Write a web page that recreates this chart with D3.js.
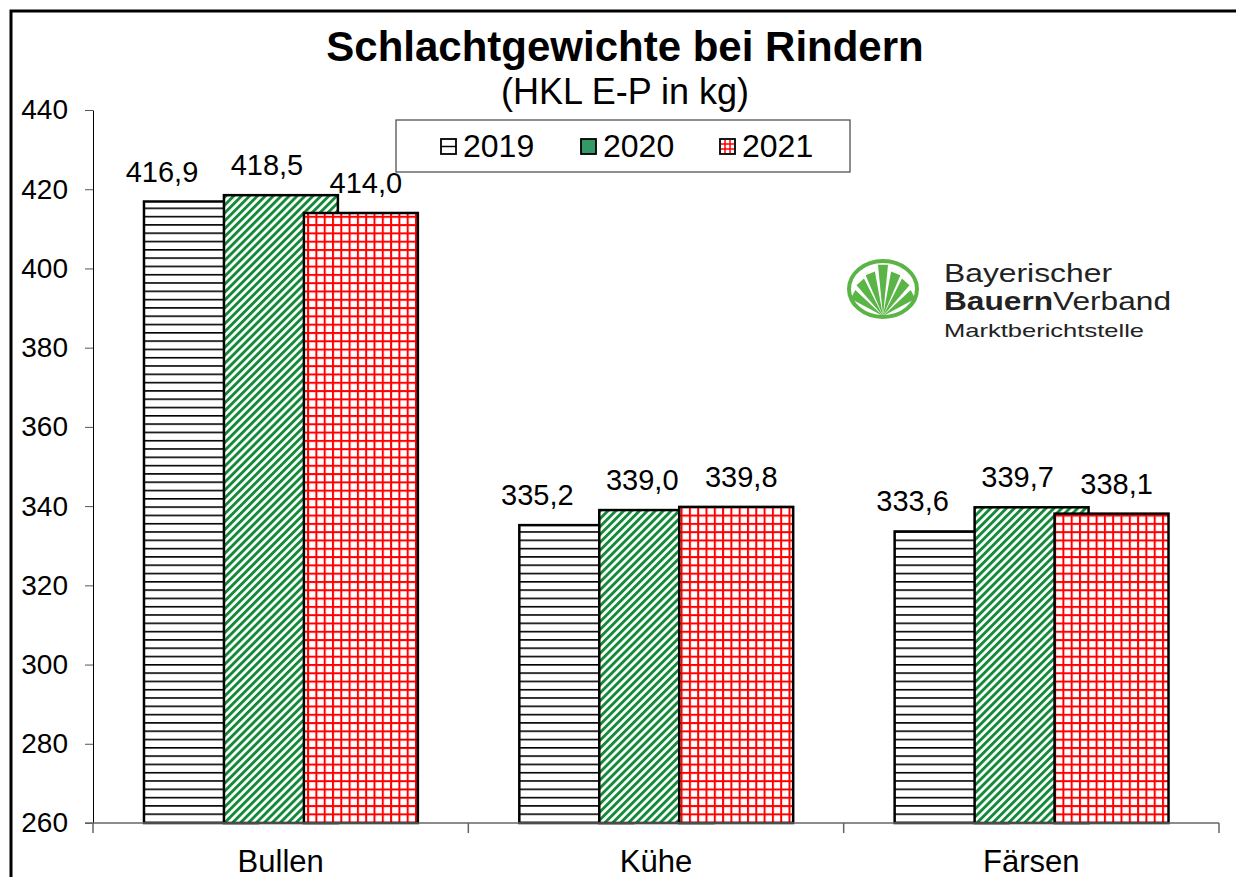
<!DOCTYPE html>
<html>
<head>
<meta charset="utf-8">
<script src="https://cdn.jsdelivr.net/npm/d3@7"></script>
<style>
  body { margin: 0; background: #fff; }
  svg { display: block; font-family: "Liberation Sans", Arial, sans-serif; }
</style>
</head>
<body>
<svg></svg>
<script>
const categories = ["Bullen", "Kühe", "Färsen"]
const years = ["2019", "2020", "2021"]
const values2019 = [416.9, 335.2, 333.6]
const values2020 = [418.5, 339.0, 339.7]
const values2021 = [414.0, 339.8, 338.1]
const yTicks = [260, 280, 300, 320, 340, 360, 380, 400, 420, 440]

const series = [values2019, values2020, values2021]
const fmt = v => d3.format(".1f")(v).replace(".", ",")

const svg = d3.select("svg")
  .attr("width", 1236)
  .attr("height", 877)

// patterns
const defs = svg.append("defs")

const pHoriz = defs.append("pattern")
  .attr("id", "p2019")
  .attr("patternUnits", "userSpaceOnUse")
  .attr("width", 8).attr("height", 8.3)
pHoriz.append("rect").attr("width", 8).attr("height", 8.3).attr("fill", "#fff")
pHoriz.append("rect").attr("y", 0).attr("width", 8).attr("height", 1.6).attr("fill", "#000")

const pDiag = defs.append("pattern")
  .attr("id", "p2020")
  .attr("patternUnits", "userSpaceOnUse")
  .attr("width", 5.6).attr("height", 5.6)
  .attr("patternTransform", "rotate(45)")
pDiag.append("rect").attr("width", 5.6).attr("height", 5.6).attr("fill", "#fff")
pDiag.append("rect").attr("width", 2.9).attr("height", 5.6).attr("fill", "#15893a")

const pGrid = defs.append("pattern")
  .attr("id", "p2021")
  .attr("patternUnits", "userSpaceOnUse")
  .attr("width", 8.3).attr("height", 8.3)
pGrid.append("rect").attr("width", 8.3).attr("height", 8.3).attr("fill", "#fff")
pGrid.append("rect").attr("width", 2).attr("height", 8.3).attr("fill", "#ff0000")
pGrid.append("rect").attr("width", 8.3).attr("height", 2).attr("fill", "#ff0000")

const fills = ["url(#p2019)", "url(#p2020)", "url(#p2021)"]

// outer frame
svg.append("rect")
  .attr("x", 11).attr("y", 11)
  .attr("width", 1300).attr("height", 900)
  .attr("fill", "none")
  .attr("stroke", "#000")
  .attr("stroke-width", 3)

// scales
const x = d3.scaleBand()
  .domain(categories)
  .range([93, 1219])

const y = d3.scaleLinear()
  .domain([260, 440])
  .range([823, 110])

const bw = x.bandwidth()
const barWidth = bw * 114 / 375.5
const barStep = bw * 80 / 375.5
const barOffset = bw * 51 / 375.5
const labelShift = [18, 43, 62]

// axes
const axisY = d3.axisLeft(y)
  .tickValues(yTicks)
  .tickSizeInner(8)
  .tickSizeOuter(0)
  .tickPadding(17)
  .tickFormat(d3.format("d"))

const axisX = d3.axisBottom(x)
  .tickSize(0)
  .tickPadding(24)

const yAxisG = svg.append("g")
  .attr("transform", "translate(93, 0)")
  .call(axisY)
yAxisG.select(".domain").attr("stroke", "#000").attr("stroke-width", 1)
yAxisG.selectAll(".tick line").attr("stroke", "#555")
yAxisG.selectAll("text")
  .attr("font-size", 28)
  .attr("fill", "#000")
  .style("font-family", "Liberation Sans, Arial, sans-serif")

// bars, one series after another so later ones overlap
series.forEach((vals, s) => {
  svg.append("g")
    .selectAll("rect")
    .data(categories)
    .join("rect")
    .attr("x", (d) => x(d) + barOffset + s * barStep)
    .attr("y", (d, i) => y(vals[i]))
    .attr("width", barWidth)
    .attr("height", (d, i) => y(260) - y(vals[i]))
    .attr("fill", fills[s])
    .attr("stroke", "#000")
    .attr("stroke-width", 2.5)
})

series.forEach((vals, s) => {
  svg.append("g")
    .selectAll("text")
    .data(categories)
    .join("text")
    .attr("x", (d) => x(d) + barOffset + s * barStep + labelShift[s])
    .attr("y", (d, i) => y(vals[i]) - 20)
    .attr("text-anchor", "middle")
    .attr("font-size", 29)
    .text((d, i) => fmt(vals[i]))
})

const xAxisG = svg.append("g")
  .attr("transform", "translate(0, 823)")
  .call(axisX)
xAxisG.select(".domain").remove()
xAxisG.selectAll("text")
  .attr("font-size", 31)
  .attr("fill", "#000")
  .attr("dy", "0.8em")
  .style("font-family", "Liberation Sans, Arial, sans-serif")

svg.append("line")
  .attr("x1", 85).attr("x2", 1219)
  .attr("y1", 823).attr("y2", 823)
  .attr("stroke", "#666").attr("stroke-width", 1.5)

svg.append("g")
  .selectAll("line")
  .data(categories.map(d => x(d)).concat([x(categories[2]) + bw]))
  .join("line")
  .attr("x1", d => d).attr("x2", d => d)
  .attr("y1", 823).attr("y2", 833)
  .attr("stroke", "#666").attr("stroke-width", 1.5)

// title
svg.append("text")
  .attr("x", 625).attr("y", 61)
  .attr("text-anchor", "middle")
  .attr("font-size", 42)
  .attr("font-weight", "bold")
  .text("Schlachtgewichte bei Rindern")

svg.append("text")
  .attr("x", 625).attr("y", 104)
  .attr("text-anchor", "middle")
  .attr("font-size", 36)
  .text("(HKL E-P in kg)")

// legend
const legend = svg.append("g")
legend.append("rect")
  .attr("x", 396).attr("y", 120)
  .attr("width", 454).attr("height", 52)
  .attr("fill", "#fff")
  .attr("stroke", "#444")
  .attr("stroke-width", 1.2)

const legendX = [441, 581, 720]
const swatchFills = ["#fff", "#339966", "#fff"]
years.forEach((yr, i) => {
  const g = legend.append("g").attr("transform", `translate(${legendX[i]}, 139)`)
  g.append("rect")
    .attr("width", 15).attr("height", 15)
    .attr("fill", swatchFills[i])
    .attr("stroke", "#000").attr("stroke-width", 1.8)
  if (i === 0) {
    g.append("line").attr("x1", 0).attr("x2", 15).attr("y1", 7.5).attr("y2", 7.5)
      .attr("stroke", "#000").attr("stroke-width", 1.5)
  }
  if (i === 2) {
    [5, 10].forEach(p => {
      g.append("line").attr("x1", p).attr("x2", p).attr("y1", 1).attr("y2", 14)
        .attr("stroke", "#f00").attr("stroke-width", 1.5)
      g.append("line").attr("x1", 1).attr("x2", 14).attr("y1", p).attr("y2", p)
        .attr("stroke", "#f00").attr("stroke-width", 1.5)
    })
  }
  g.append("text")
    .attr("x", 22).attr("y", 18)
    .attr("font-size", 32)
    .text(yr)
})

// logo
const logo = svg.append("g").attr("transform", "translate(883, 289)")
const green = "#5bb446"
logo.append("ellipse")
  .attr("rx", 34).attr("ry", 28)
  .attr("fill", "none")
  .attr("stroke", green)
  .attr("stroke-width", 4)
const rayAngles = [-62, -42, -22, 0, 22, 42, 62]
rayAngles.forEach(a => {
  const r = a === 0 ? 38 : 34
  const rad = (a - 90) * Math.PI / 180
  const tipX = Math.cos(rad) * r
  const tipY = 27 + Math.sin(rad) * r * 1.35
  const perp = rad + Math.PI / 2
  const w = 5
  logo.append("path")
    .attr("d", `M0,27 L${tipX + Math.cos(perp) * w},${tipY + Math.sin(perp) * w} L${tipX - Math.cos(perp) * w},${tipY - Math.sin(perp) * w} Z`)
    .attr("fill", green)
})

svg.append("text")
  .attr("x", 944).attr("y", 282)
  .attr("font-size", 25)
  .attr("fill", "#222")
  .attr("textLength", 168)
  .attr("lengthAdjust", "spacingAndGlyphs")
  .text("Bayerischer")

const bv = svg.append("text")
  .attr("x", 944).attr("y", 310)
  .attr("font-size", 25)
  .attr("fill", "#222")
  .attr("textLength", 227)
  .attr("lengthAdjust", "spacingAndGlyphs")
bv.append("tspan").attr("font-weight", "bold").text("Bauern")
bv.append("tspan").text("Verband")

svg.append("text")
  .attr("x", 944).attr("y", 337)
  .attr("font-size", 19)
  .attr("fill", "#222")
  .attr("textLength", 200)
  .attr("lengthAdjust", "spacingAndGlyphs")
  .text("Marktberichtstelle")
</script>
</body>
</html>
